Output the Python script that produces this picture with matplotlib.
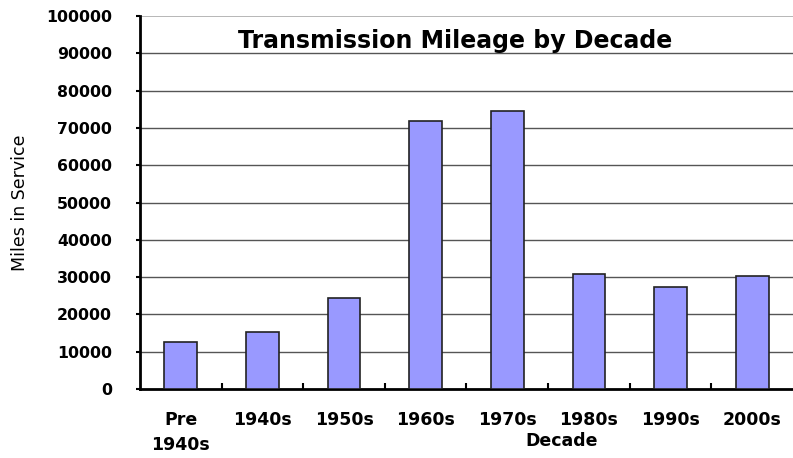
import numpy as np
import matplotlib.pyplot as plt

decades = ['Pre\n1940s', '1940s', '1950s', '1960s', '1970s', '1980s', '1990s', '2000s']
miles = [12700, 15300, 24500, 71800, 74600, 30800, 27300, 30200]
y_ticks = np.arange(0, 100001, 10000)

plt.rcParams['font.family'] = ['DejaVu Sans']

fig = plt.figure(figsize=(7.93, 4.58), dpi=100)
ax = fig.add_axes([0.1765, 0.1507, 0.8235, 0.8143])

x = np.arange(len(decades))
ax.bar(x, miles, width=0.4, color='#9999FF', edgecolor='#222222', linewidth=1.2, zorder=3)

ax.set_xlim(-0.5, len(decades) - 0.5)
ax.set_ylim(0, 100000)
ax.set_yticks(y_ticks)
ax.set_yticklabels([str(v) for v in y_ticks], fontsize=11.3, fontweight='bold')
for v in y_ticks[1:-1]:
    ax.axhline(v, color='#555555', linewidth=1.0, zorder=1)
ax.axhline(100000, color='#aaaaaa', linewidth=1.2, zorder=1)

# category boundary ticks pointing up, labels centred under bars
ax.set_xticks(x[:-1] + 0.5)
ax.set_xticklabels([])
ax.set_xticks(x, minor=True)
ax.set_xticklabels(decades, minor=True, fontsize=12.5, fontweight='bold', va='top', linespacing=1.5)
ax.tick_params(axis='x', which='major', direction='in', length=4, width=1.5)
ax.tick_params(axis='x', which='minor', length=0, pad=16)
ax.tick_params(axis='y', direction='out', length=3, width=1.5, pad=17)

for side in ['top', 'right']:
    ax.spines[side].set_visible(False)
ax.spines['left'].set_linewidth(2)
ax.spines['bottom'].set_linewidth(2)

ax.set_ylabel('Miles in Service', fontsize=12.5)
ax.yaxis.set_label_coords(-0.170, 0.5)
ax.set_xlabel('Decade', fontsize=12.5, fontweight='bold')
ax.xaxis.set_label_coords(0.645, -0.115)

ax.text(0.483, 0.932, 'Transmission Mileage by Decade', transform=ax.transAxes,
        ha='center', va='center', fontsize=17, fontweight='bold')

fig.savefig('out.png', dpi=100)
